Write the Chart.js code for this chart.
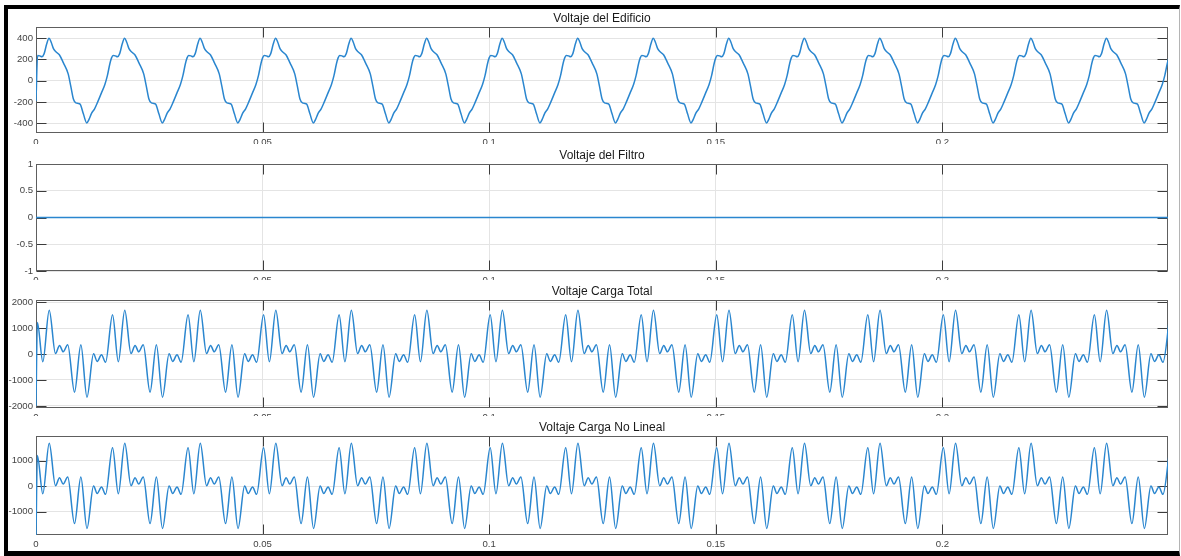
<!DOCTYPE html>
<html lang="es">
<head>
<meta charset="utf-8">
<title>Voltajes</title>
<script src="https://cdn.jsdelivr.net/npm/chart.js@4.4.1/dist/chart.umd.min.js"></script>
<style>
  html, body { margin: 0; padding: 0; background: #fff; }
  body { width: 1181px; height: 556px; position: relative; overflow: hidden; }
  .marco {
    position: absolute; left: 4px; top: 5px; width: 1176px; height: 551px; box-sizing: border-box;
    border-top: 4px solid #000; border-left: 4px solid #000;
    border-bottom: 5px solid #000; border-right: 1px solid #b4b4b4;
  }
  .panel { position: absolute; left: 0; width: 1181px; overflow: hidden; }
  .panel canvas { position: absolute; left: 0; top: 0; }
</style>
</head>
<body>
<div class="marco"></div>
<div class="panel" style="top:11px;height:133px"><canvas id="c1" width="1181" height="142"></canvas></div>
<div class="panel" style="top:148px;height:132px"><canvas id="c2" width="1181" height="143"></canvas></div>
<div class="panel" style="top:284px;height:132px"><canvas id="c3" width="1181" height="144"></canvas></div>
<div class="panel" style="top:420px;height:136px"><canvas id="c4" width="1181" height="135"></canvas></div>
<script>
// Time axis (s) and ticks
const xTicks = [0, 0.05, 0.1, 0.15, 0.2];
const X_MAX = 0.2498;
const T_CICLO = 1000 / 60;   // one 60 Hz cycle, ms
const N_CICLOS = 15;

// Voltaje del Edificio: start point + one steady cycle (ms within cycle, V)
const edificioInicioT = [0];
const edificioInicioV = [-190];
const edificioCicloT = [0.35, 0.85, 1.30, 1.80, 2.35, 2.87, 3.35, 3.85, 4.45, 5.15, 6.05, 7.10, 7.65, 8.25,
    8.80, 9.30, 9.75, 10.45, 11.20, 11.70, 12.25, 12.90, 13.60, 14.40, 15.20, 15.75, 16.30, 16.67];
const edificioCicloV = [238, 234, 226, 255, 345, 400, 362, 302, 270, 245, 168, 65, -45, -170,
    -208, -212, -220, -310, -396, -362, -305, -265, -200, -118, -35, 48, 160, 215];
const edificioYTicks = [-400, -200, 0, 200, 400];

// Voltaje del Filtro
const filtroT = [0, 250];
const filtroV = [0, 0];
const filtroYTicks = [-1, -0.5, 0, 0.5, 1];

// Voltaje Carga Total
const totalInicioT = [0, 0.30];
const totalInicioV = [-2000, 1210];
const totalCicloT = [1.50, 2.92, 4.30, 5.20, 6.00, 7.00, 8.50, 9.90, 11.25, 12.70, 13.50, 14.45, 15.35, 16.89];
const totalCicloV = [-300, 1690, 15, 330, 85, 358, -1470, 358, -1665, 5, -285, -30, -320, 1515];
const totalYTicks = [-2000, -1000, 0, 1000, 2000];

// Voltaje Carga No Lineal
const noLinealInicioT = [0, 0.30];
const noLinealInicioV = [-2000, 1210];
const noLinealCicloT = [1.50, 2.92, 4.30, 5.20, 6.00, 7.00, 8.50, 9.90, 11.25, 12.70, 13.50, 14.45, 15.35, 16.89];
const noLinealCicloV = [-300, 1690, 15, 330, 85, 358, -1470, 358, -1665, 5, -285, -30, -320, 1515];
const noLinealYTicks = [-1000, 0, 1000];

const LINE = '#2a86cf';
const GRID = '#e4e4e4';
const TICK_FONT = { family: '"Liberation Sans", Arial, sans-serif', size: 9.6 };
const LARGO_MARCA = 10;

// start points, then the same measured cycle repeated over the record
function armarSerie(inicioT, inicioV, cicloT, cicloV, nCiclos) {
    const pts = inicioT.map((t, i) => ({ x: t / 1000, y: inicioV[i] }));
    for (let c = 0; c < nCiclos; c++) {
        cicloT.forEach((t, i) => pts.push({ x: (c * T_CICLO + t) / 1000, y: cicloV[i] }));
    }
    return pts;
}

// MATLAB-like box with inward tick marks
const marcoMatlab = {
    id: 'marcoMatlab',
    beforeDatasetsDraw(chart) {
        const { ctx, chartArea: a } = chart;
        const x = chart.scales.x, y = chart.scales.y;
        const L = Math.round(a.left) + 0.5, R = Math.round(a.right) - 0.5;
        const Tp = Math.round(a.top) + 0.5, B = Math.round(a.bottom) - 0.5;
        ctx.save();
        ctx.lineWidth = 1;
        ctx.strokeStyle = '#3c3c3c';
        ctx.beginPath();
        x.ticks.forEach(t => {
            const px = Math.round(x.getPixelForValue(t.value)) + 0.5;
            ctx.moveTo(px, Tp); ctx.lineTo(px, Tp + LARGO_MARCA);
            ctx.moveTo(px, B); ctx.lineTo(px, B - LARGO_MARCA);
        });
        y.ticks.forEach(t => {
            const py = Math.round(y.getPixelForValue(t.value)) + 0.5;
            ctx.moveTo(L, py); ctx.lineTo(L + LARGO_MARCA, py);
            ctx.moveTo(R, py); ctx.lineTo(R - LARGO_MARCA, py);
        });
        ctx.stroke();
        ctx.strokeStyle = '#5e5e5e';
        ctx.strokeRect(L, Tp, R - L, B - Tp);
        ctx.restore();
    },
};

function mkPanel(id, titulo, datos, yMin, yMax, yTicks) {
    return new Chart(document.getElementById(id), {
        type: 'line',
        data: {
            datasets: [{
                data: datos,
                borderColor: LINE,
                borderWidth: 1.5,
                pointRadius: 0,
                fill: false,
                cubicInterpolationMode: 'monotone',
                clip: 0,
            }],
        },
        options: {
            responsive: false,
            animation: false,
            events: [],
            parsing: false,
            normalized: true,
            layout: { padding: { left: 0, right: 13, top: 0, bottom: 0 } },
            plugins: {
                legend: { display: false },
                tooltip: { enabled: false },
                title: {
                    display: true,
                    text: titulo,
                    fullSize: false,
                    color: '#1a1a1a',
                    font: { family: '"Liberation Sans", Arial, sans-serif', size: 12, weight: 'normal', lineHeight: '14px' },
                    padding: { top: 1, bottom: 1 },
                },
            },
            scales: {
                x: {
                    type: 'linear',
                    min: 0,
                    max: X_MAX,
                    afterBuildTicks: axis => { axis.ticks = xTicks.map(v => ({ value: v })); },
                    afterFit: scale => { scale.height = 20; },
                    grid: { color: GRID, drawTicks: false },
                    border: { display: false },
                    ticks: {
                        autoSkip: false, maxRotation: 0, padding: 4, color: '#444', font: TICK_FONT,
                        callback: v => String(v),
                    },
                },
                y: {
                    min: yMin,
                    max: yMax,
                    afterBuildTicks: axis => { axis.ticks = yTicks.map(v => ({ value: v })); },
                    afterFit: scale => { scale.width = 36; },
                    grid: { color: GRID, drawTicks: false },
                    border: { display: false },
                    ticks: { padding: 3, color: '#444', font: TICK_FONT, callback: v => String(v) },
                },
            },
        },
        plugins: [marcoMatlab],
    });
}

mkPanel('c1', 'Voltaje del Edificio',
    armarSerie(edificioInicioT, edificioInicioV, edificioCicloT, edificioCicloV, N_CICLOS),
    -490, 505, edificioYTicks);
mkPanel('c2', 'Voltaje del Filtro',
    filtroT.map((t, i) => ({ x: t / 1000, y: filtroV[i] })),
    -1, 1, filtroYTicks);
mkPanel('c3', 'Voltaje Carga Total',
    armarSerie(totalInicioT, totalInicioV, totalCicloT, totalCicloV, N_CICLOS),
    -2080, 2080, totalYTicks);
mkPanel('c4', 'Voltaje Carga No Lineal',
    armarSerie(noLinealInicioT, noLinealInicioV, noLinealCicloT, noLinealCicloV, N_CICLOS),
    -1920, 1975, noLinealYTicks);
</script>
</body>
</html>
